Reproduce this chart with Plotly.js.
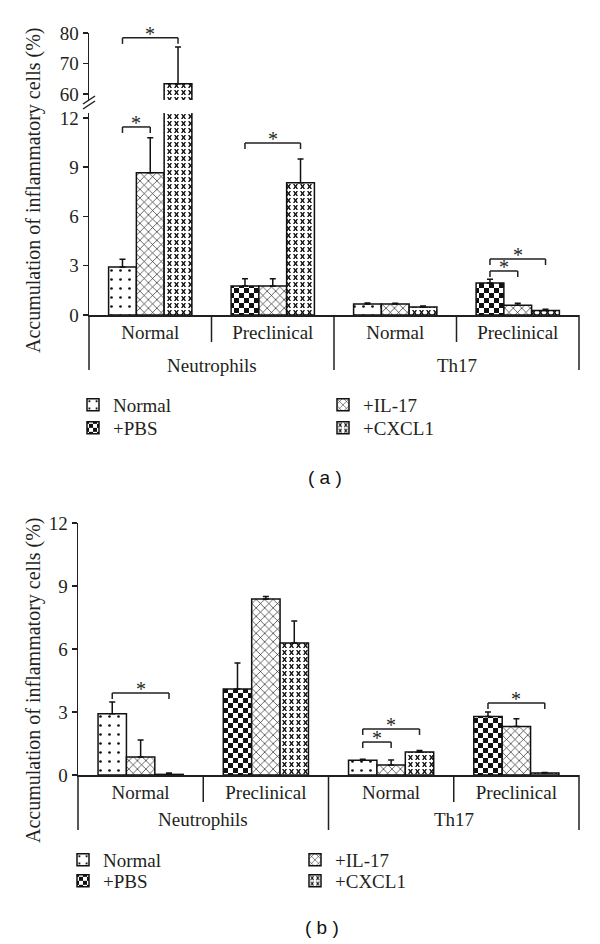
<!DOCTYPE html>
<html><head><meta charset="utf-8">
<script src="https://cdn.plot.ly/plotly-3.0.1.min.js"></script>
<style>html,body{margin:0;padding:0;background:#fff}#chart{width:600px;height:944px}</style>
</head><body><div id="chart"></div>
<script>
// ---------- data ----------
const groups = ["Neutrophils", "Neutrophils", "Th17", "Th17"];
const stages = ["Normal", "Preclinical", "Normal", "Preclinical"];
const seriesNames = ["Normal", "+PBS", "+IL-17", "+CXCL1"];

// panel (a)
const aNormal    = [2.93, null, 0.67, null];
const aNormalErr = [0.47, null, 0.06, null];
const aPBS       = [null, 1.77, null, 1.95];
const aPBSErr    = [null, 0.43, null, 0.22];
const aIL17      = [8.66, 1.77, 0.67, 0.60];
const aIL17Err   = [2.14, 0.43, 0.05, 0.12];
const aCXCL1     = [63.3, 8.05, 0.49, 0.27];
const aCXCL1Err  = [12.1, 1.45, 0.06, 0.08];

// panel (b)
const bNormal    = [2.92, null, 0.70, null];
const bNormalErr = [0.56, null, 0.05, null];
const bPBS       = [null, 4.10, null, 2.79];
const bPBSErr    = [null, 1.23, null, 0.21];
const bIL17      = [0.86, 8.38, 0.48, 2.31];
const bIL17Err   = [0.81, 0.12, 0.23, 0.37];
const bCXCL1     = [0.03, 6.29, 1.10, 0.10];
const bCXCL1Err  = [0.07, 1.04, 0.07, 0.02];

// significance brackets: [group index, from slot, to slot, bracket height]
const sigA = [[0, 0, 2, 78.4], [0, 0, 1, 11.45], [1, 0, 2, 10.47], [3, 0, 1, 2.68], [3, 0, 2, 3.41]];
const sigAaxis = ["y2", "y", "y", "y", "y"];
const sigB = [[0, 0, 2, 3.9], [2, 0, 1, 1.57], [2, 0, 2, 2.19], [3, 0, 2, 3.43]];

const yTicksLow  = [0, 3, 6, 9, 12];
const yTicksHigh = [60, 70, 80];
const yTitle = "Accumulation of inflammatory cells (%)";
const panelLabels = ["( a )", "( b )"];

// ---------- layout helpers ----------
const W = 600, H = 944, ML = 78, MR = 21, MT = 33, MB = 169;
const PW = W - ML - MR, PH = H - MT - MB;
const px = X => (X - ML) / PW;          // pixel -> paper x
const py = Y => (H - MB - Y) / PH;      // pixel -> paper y

const serif = "Liberation Serif";
const ink = "#231f20";
const BARGAP = 0.32;
const slotW = (1 - BARGAP) / 3;
const slotOff = k => (k - 1) * slotW;

const xKeys = groups.map((g, i) => g + " | " + stages[i]);

const patterns = {
  "Normal": {shape: ".", size: 9, solidity: 0.07, fgcolor: "#111", bgcolor: "#fff", fillmode: "replace"},
  "+PBS":   {path: "M0,0H5V5H0ZM5,5H10V10H5Z", size: 10, fgcolor: "#111", bgcolor: "#fff", fillmode: "replace"},
  "+IL-17": {shape: "x", size: 6, solidity: 0.2, fgcolor: "#111", bgcolor: "#fff", fillmode: "replace"},
  "+CXCL1": {path: "M1,1L2.5,1L3.5,2.5L4.5,1L6,1L4.5,3.5L6,6L4.5,6L3.5,4.5L2.5,6L1,6L2.5,3.5Z", size: 7, fgcolor: "#111", bgcolor: "#fff", fillmode: "replace"}
};
const slots = {"Normal": "s0", "+PBS": "s0", "+IL-17": "s1", "+CXCL1": "s2"};

function barTrace(name, vals, errs, xa, ya, legendId, showlegend) {
  return {
    type: "bar", name: name, x: xKeys, y: vals,
    xaxis: xa, yaxis: ya, offsetgroup: slots[name],
    legend: legendId, showlegend: showlegend,
    marker: {color: "#fff", line: {color: "#111", width: 1.5}, pattern: patterns[name]},
    error_y: {type: "data", symmetric: false, array: errs, arrayminus: errs.map(() => 0),
              color: "#111", thickness: 1.5, width: 3},
    hoverinfo: "skip"
  };
}

const aSeries = [[aNormal, aNormalErr], [aPBS, aPBSErr], [aIL17, aIL17Err], [aCXCL1, aCXCL1Err]];
const bSeries = [[bNormal, bNormalErr], [bPBS, bPBSErr], [bIL17, bIL17Err], [bCXCL1, bCXCL1Err]];

const traces = [];
seriesNames.forEach((n, i) => traces.push(barTrace(n, aSeries[i][0], aSeries[i][1], "x", "y", i === 0 ? "legend" : "legend" + (i + 1), true)));
seriesNames.forEach((n, i) => traces.push(barTrace(n, aSeries[i][0], aSeries[i][1], "x", "y2", "legend", false)));
seriesNames.forEach((n, i) => traces.push(barTrace(n, bSeries[i][0], bSeries[i][1], "x2", "y3", "legend" + (i + 5), true)));

// ---------- legends (one per entry, placed in two columns) ----------
const legendPos = [
  [93, 405], [93, 428], [343, 405], [343, 428],
  [83, 860], [83, 881], [315, 860], [315, 881]
];
const layout = {
  width: W, height: H,
  margin: {l: ML, r: MR, t: MT, b: MB},
  paper_bgcolor: "#fff", plot_bgcolor: "rgba(0,0,0,0)",
  barmode: "group", bargap: BARGAP, bargroupgap: 0,
  font: {family: serif, color: ink, size: 18},
  annotations: [], shapes: []
};
legendPos.forEach((p, i) => {
  layout[i === 0 ? "legend" : "legend" + (i + 1)] = {
    x: px(p[0] - 20), y: py(p[1]), xanchor: "left", yanchor: "middle",
    bgcolor: "rgba(0,0,0,0)", borderwidth: 0,
    font: {family: serif, size: 19, color: ink}
  };
});

const xCommon = {
  type: "category", categoryorder: "array", categoryarray: xKeys,
  tickvals: xKeys, ticktext: stages, range: [-0.5, 3.5],
  showline: true, linecolor: ink, linewidth: 1.5, ticks: "",
  showgrid: false, zeroline: false, fixedrange: true,
  tickfont: {family: serif, size: 19, color: ink}
};
const yCommon = {
  showline: true, linecolor: ink, linewidth: 1.5, ticks: "outside", ticklen: 5,
  tickwidth: 1.5, tickcolor: ink, showgrid: false, zeroline: false, fixedrange: true,
  tickfont: {family: serif, size: 19, color: ink}
};
layout.xaxis  = Object.assign({}, xCommon, {domain: [px(89), 1], anchor: "y"});
layout.xaxis2 = Object.assign({}, xCommon, {domain: [0, 1], anchor: "y3"});
layout.yaxis  = Object.assign({}, yCommon, {domain: [py(315), py(113)], range: [0, 12.3], tickvals: yTicksLow, anchor: "x"});
layout.yaxis2 = Object.assign({}, yCommon, {domain: [py(100), 1], range: [58, 80], tickvals: yTicksHigh, anchor: "x"});
layout.yaxis3 = Object.assign({}, yCommon, {domain: [0, py(523)], range: [0, 12], tickvals: yTicksLow, anchor: "x2"});

// ---------- category dividers and group labels ----------
function addDividers(xa, axisY, innerY, outerY, outerLabelY) {
  const line = {color: ink, width: 1.5};
  for (let i = 0; i < stages.length - 1; i++) {
    const isOuter = groups[i] !== groups[i + 1];
    layout.shapes.push({type: "line", xref: xa, yref: "paper", x0: i + 0.5, x1: i + 0.5,
      y0: py(axisY), y1: py(isOuter ? outerY : innerY), line: line});
  }
  [0, 1].forEach(d => layout.shapes.push({type: "line", xref: xa + " domain", yref: "paper",
    x0: d, x1: d, y0: py(axisY), y1: py(outerY), line: line}));
  const uniq = [...new Set(groups)];
  uniq.forEach(g => {
    const idx = groups.map((v, i) => v === g ? i : null).filter(v => v !== null);
    const c = idx.reduce((s, v) => s + v, 0) / idx.length;
    layout.annotations.push({text: g, xref: xa, yref: "paper", x: c, y: py(outerLabelY),
      xanchor: "center", yanchor: "middle", showarrow: false, font: {family: serif, size: 19, color: ink}});
  });
}
addDividers("x", 315, 342, 370, 365);
addDividers("x2", 775, 802, 830, 819);

// ---------- significance brackets ----------
function addBracket(s, xa, ya) {
  const [g, f, t, yv] = s;
  const x0 = g + slotOff(f), x1 = g + slotOff(t);
  const line = {color: ink, width: 1.5};
  layout.shapes.push({type: "line", xref: xa, yref: ya, x0: x0, x1: x1, y0: yv, y1: yv, line: line});
  [x0, x1].forEach(xx => layout.shapes.push({type: "line", xref: xa, yref: ya, x0: xx, x1: xx,
    ysizemode: "pixel", yanchor: yv, y0: 0, y1: -6, line: line}));
  layout.annotations.push({text: "*", xref: xa, yref: ya, x: (x0 + x1) / 2, y: yv,
    xanchor: "center", yanchor: "bottom", yshift: -9, showarrow: false,
    font: {family: serif, size: 20, color: ink}});
}
sigA.forEach((s, i) => addBracket(s, "x", sigAaxis[i]));
sigB.forEach(s => addBracket(s, "x2", "y3"));

// ---------- axis break marks ----------
[100, 105].forEach(c => layout.shapes.push({type: "line", xref: "paper", yref: "paper",
  x0: px(83), y0: py(c + 4), x1: px(95), y1: py(c - 4), line: {color: ink, width: 1.5}}));

// ---------- y titles and panel labels ----------
[[191], [681]].forEach(p => layout.annotations.push({text: yTitle, textangle: -90,
  xref: "paper", yref: "paper", x: px(33), y: py(p[0]), xanchor: "center", yanchor: "middle",
  showarrow: false, font: {family: serif, size: 20, color: ink}}));
[[325, 477], [322, 927]].forEach((p, i) => layout.annotations.push({text: panelLabels[i],
  xref: "paper", yref: "paper", x: px(p[0]), y: py(p[1]), xanchor: "center", yanchor: "middle",
  showarrow: false, font: {family: "Liberation Sans", size: 19, color: "#111"}}));

Plotly.newPlot("chart", traces, layout, {staticPlot: true, displayModeBar: false});
</script>
</body></html>
